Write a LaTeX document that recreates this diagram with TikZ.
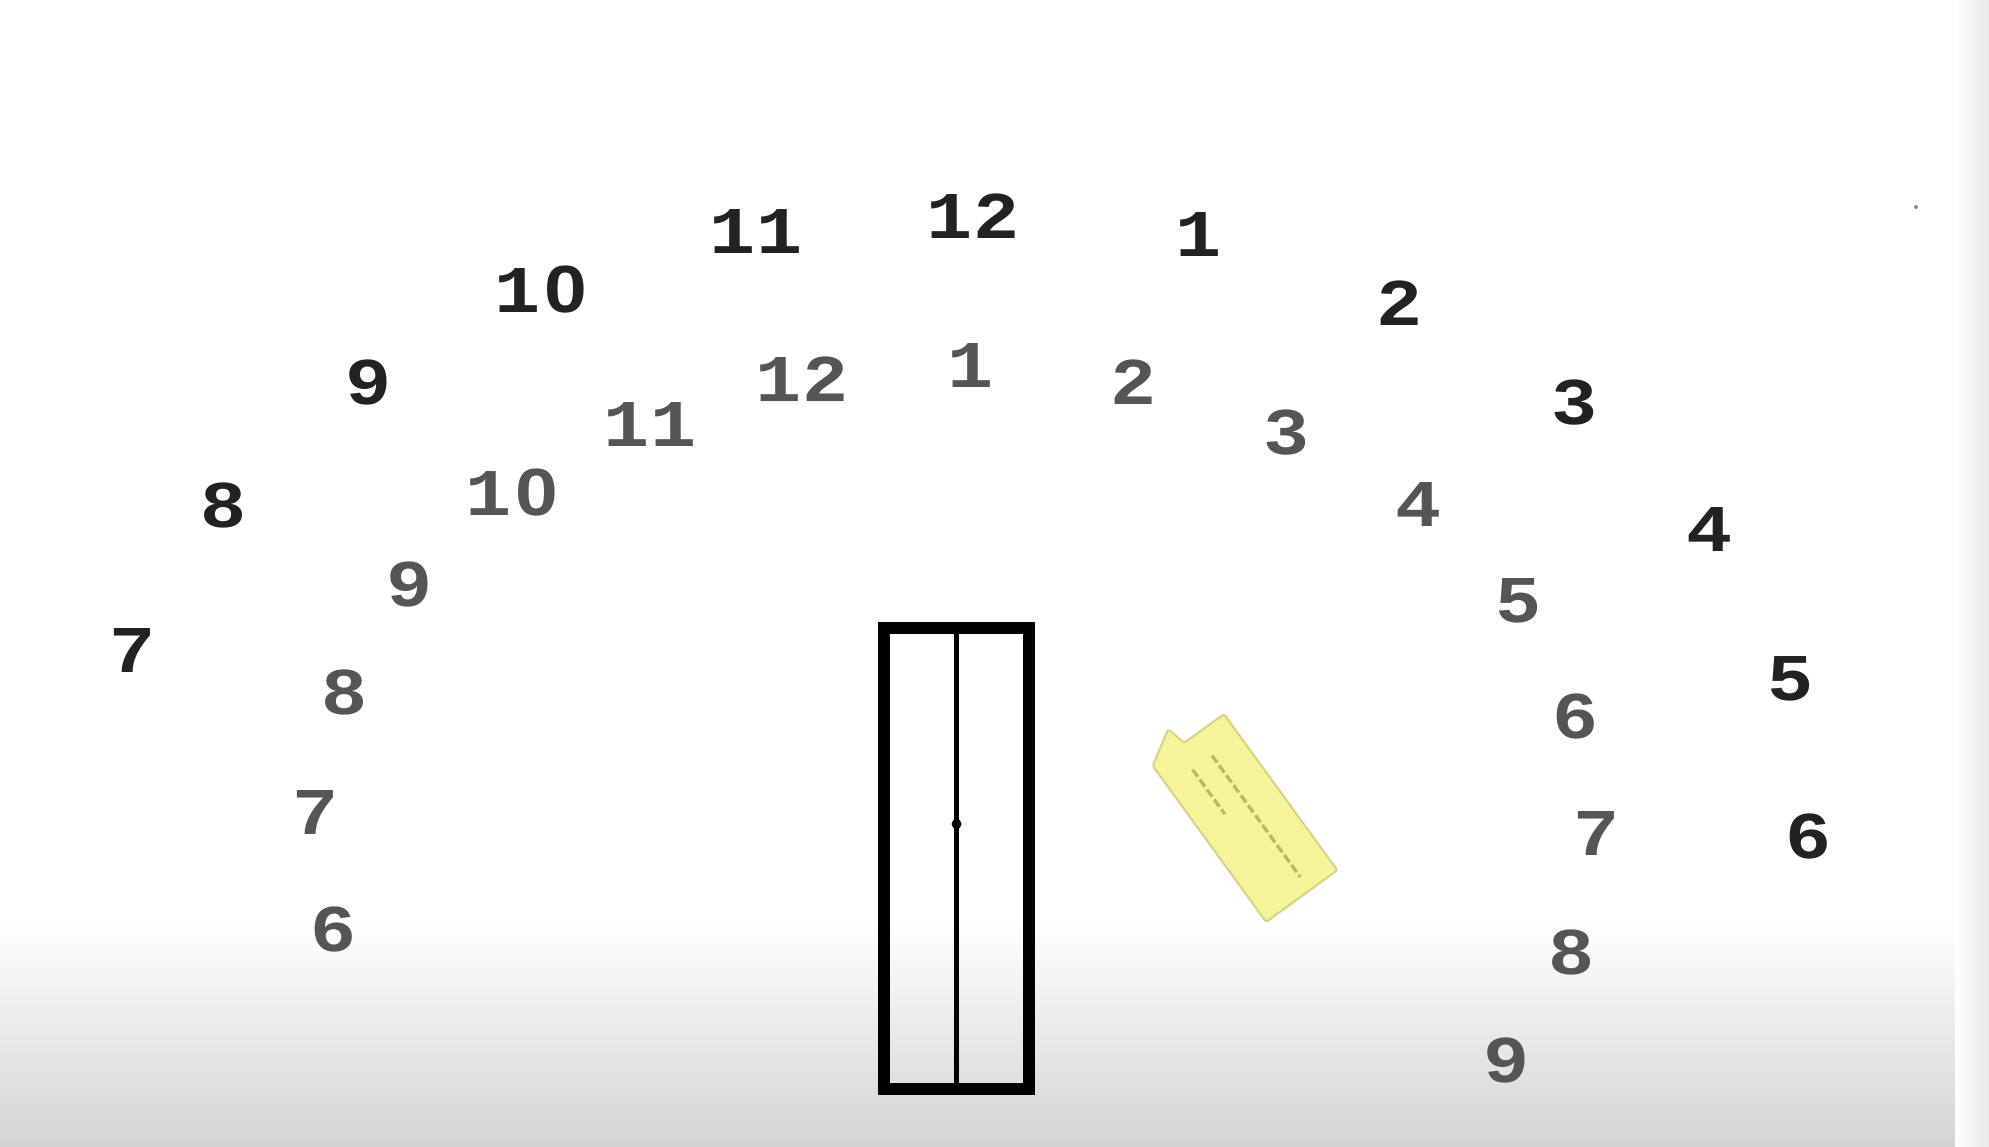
\documentclass[tikz,border=0pt]{standalone}
\usepackage{fontspec}
\usetikzlibrary{positioning}
\newfontfamily\clockfont{Liberation Mono}
\newfontfamily\zerofont{Liberation Sans}
\definecolor{dialDark}{HTML}{222222}
\definecolor{dialGray}{HTML}{555555}
\definecolor{noteYellow}{HTML}{F6F49A}
\definecolor{noteEdge}{HTML}{D6D48A}
\definecolor{noteInk}{HTML}{B8B66A}
\newcommand{\widedigits}[1]{\scalebox{1.15}[1]{#1}}
\newcommand{\plainzero}{\hspace{0.05em}{\zerofont 0}}

\begin{document}
\begin{tikzpicture}[
    outernum/.style={text=dialDark, font=\clockfont\bfseries\fontsize{19}{22}\selectfont, inner sep=0pt},
    innernum/.style={text=dialGray, font=\clockfont\bfseries\fontsize{19}{22}\selectfont, inner sep=0pt}]
  \useasboundingbox (0,0) rectangle (19.89,-11.47);
  % screen background
  \shade[top color=white, bottom color=black!17] (0,-9.2) rectangle (19.89,-11.47);
  \shade[left color=white, right color=black!9] (19.55,0) rectangle (19.89,-11.47);
  \fill[black!45] (19.16,-2.07) circle (0.02);

  % outer dial
  \foreach \nm/\h/\x/\y in {o12/12/9.73/2.16, o1/1/11.99/2.35, o2/2/14.00/3.03, o3/3/15.75/4.03,
      o4/4/17.10/5.30, o5/5/17.91/6.79, o6/6/18.09/8.36, o7/7/1.33/6.51, o8/8/2.24/5.05,
      o9/9/3.69/3.82, o10/1\plainzero/5.41/2.90, o11/11/7.56/2.32}{
    \node[outernum] (\nm) at (\x,-\y) {\widedigits{\h}};
  }
  % inner dial
  \foreach \nm/\h/\x/\y in {i1/1/9.71/3.66, i2/2/11.34/3.82, i3/3/12.87/4.33, i4/4/14.19/5.05,
      i5/5/15.19/6.01, i6/6/15.76/7.16, i7/7/15.97/8.34, i8/8/15.72/9.52, i9/9/15.07/10.60,
      j6/6/3.34/9.29, j7/7/3.16/8.13, j8/8/3.45/6.92, j9/9/4.10/5.84, j10/1\plainzero/5.12/4.93,
      j11/11/6.50/4.25, j12/12/8.02/3.79}{
    \node[innernum] (\nm) at (\x,-\y) {\widedigits{\h}};
  }

  % door
  \node[draw, line width=0.12cm, minimum width=1.45cm, minimum height=4.61cm,
        inner sep=0pt, outer sep=0pt] (door) at (9.565,-8.585) {};
  \draw[line width=0.05cm] (door.north) -- (door.south);
  \coordinate (handle) at (9.565,-8.24);
  \fill (handle) circle (0.05);

  % sticky note
  \begin{scope}[shift={(12.45,-8.18)}, rotate=-54]
    \filldraw[fill=noteYellow, draw=noteEdge, line width=0.6pt, rounded corners=0.5pt]
      (-0.965,-0.44) -- (-1.17,-0.10) -- (-0.965,-0.05) -- (-0.965,0.44)
      -- (0.965,0.44) -- (0.965,-0.44) -- cycle;
    \draw[noteInk, line width=0.9pt, dash pattern=on 2.5pt off 1pt] (-0.70,0.10) -- (0.80,0.10);
    \draw[noteInk, line width=0.9pt, dash pattern=on 2.5pt off 1pt] (-0.70,-0.14) -- (-0.15,-0.14);
  \end{scope}
\end{tikzpicture}
\end{document}
